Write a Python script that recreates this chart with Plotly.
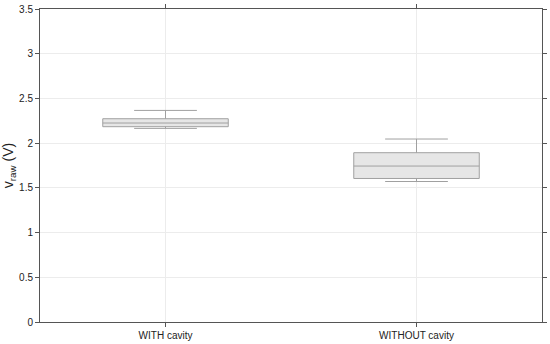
import plotly.graph_objects as go

categories = ["WITH cavity", "WITHOUT cavity"]
lower_whisker = [2.165, 1.571]
q1 = [2.184, 1.605]
median = [2.225, 1.744]
q3 = [2.273, 1.893]
upper_whisker = [2.366, 2.046]
y_ticks = [0, 0.5, 1, 1.5, 2, 2.5, 3, 3.5]
y_tick_labels = ["0", "0.5", "1", "1.5", "2", "2.5", "3", "3.5"]

fig = go.Figure()
fig.add_trace(go.Box(
    x=categories,
    q1=q1, median=median, q3=q3,
    lowerfence=lower_whisker, upperfence=upper_whisker,
    fillcolor="#e6e6e6",
    line=dict(color="#a0a0a0", width=1),
    whiskerwidth=0.5,
    width=0.5,
    boxpoints=False,
    showlegend=False,
))

font_family = "Liberation Sans, Arial, sans-serif"
axis_common = dict(
    showline=True, linecolor="#555555", linewidth=1, mirror="ticks",
    ticks="outside", ticklen=4, tickcolor="#555555",
    showgrid=True, gridcolor="#ececec", gridwidth=1,
    zeroline=False, automargin=False,
    tickfont=dict(family=font_family, size=10, color="#222222"),
)

fig.update_layout(
    width=550, height=344,
    margin=dict(l=40, r=8, t=9, b=22),
    plot_bgcolor="white", paper_bgcolor="white",
    xaxis=dict(range=[-0.5, 1.5], **axis_common),
    yaxis=dict(range=[0, 3.5], tickvals=y_ticks, ticktext=y_tick_labels,
               title=dict(text="v<sub>raw</sub> (V)", standoff=2,
                          font=dict(family=font_family, size=14, color="#222222")),
               **axis_common),
)

fig.write_html("out.html", config={"displayModeBar": False},
               post_script="document.body.style.margin='0';")
